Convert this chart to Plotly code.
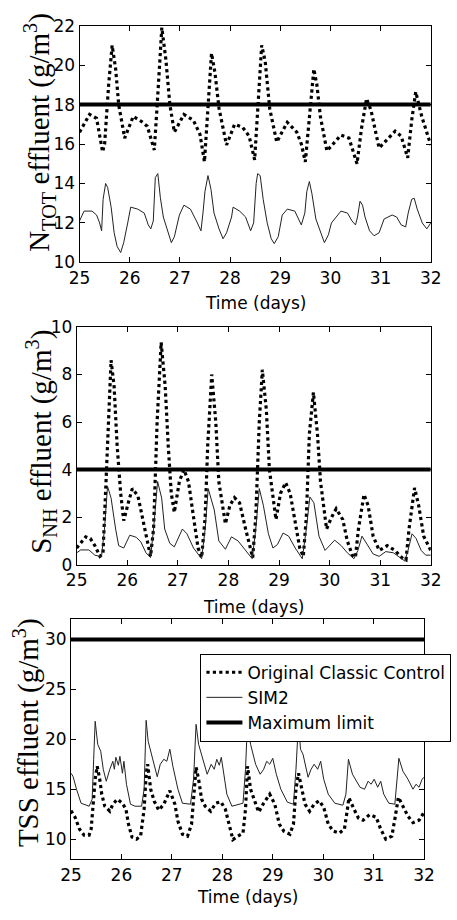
import plotly.graph_objects as go

# ---------------- data ----------------
days = [25, 26, 27, 28, 29, 30, 31, 32]
limit_ntot = 18
limit_snh = 4
limit_tss = 30

# N_TOT, Original Classic Control
t_ntot_orig = [25.0, 25.2, 25.34, 25.46, 25.5, 25.58, 25.65, 25.72, 25.78, 25.9, 26.07, 26.23, 26.35, 26.49,
               26.56, 26.64, 26.72, 26.8, 26.89, 27.08, 27.27, 27.4, 27.49, 27.56, 27.63, 27.7, 27.78, 27.93,
               28.09, 28.25, 28.38, 28.49, 28.56, 28.63, 28.7, 28.79, 28.93, 29.14, 29.33, 29.42, 29.5, 29.58,
               29.67, 29.73, 29.8, 29.93, 30.21, 30.37, 30.53, 30.62, 30.72, 30.81, 30.97, 31.29, 31.41, 31.54,
               31.62, 31.7, 31.82, 32.0]
ntot_orig = [16.6, 17.5, 17.3, 15.6, 16.0, 19.0, 21.0, 19.8, 18.0, 16.3, 17.4, 17.15, 16.9, 15.7,
             18.5, 21.9, 20.3, 18.0, 16.6, 17.5, 17.2, 16.5, 15.1, 17.8, 20.6, 19.6, 17.8, 15.95,
             17.0, 16.85, 16.4, 15.2, 18.2, 21.0, 20.2, 17.8, 16.1, 17.1, 16.6, 16.0, 15.1, 17.5,
             19.8, 19.0, 17.4, 15.65, 16.45, 16.3, 15.0, 16.8, 18.3, 17.7, 15.8, 16.65, 16.4, 15.3,
             17.2, 18.65, 17.4, 15.95]

# N_TOT, SIM2
t_ntot_sim2 = [25.0, 25.09, 25.25, 25.34, 25.4, 25.44, 25.47, 25.52, 25.56, 25.63, 25.69, 25.75, 25.82, 25.88,
               25.96, 26.02, 26.16, 26.29, 26.37, 26.42, 26.47, 26.51, 26.56, 26.61, 26.67, 26.76, 26.83, 26.89,
               26.99, 27.08, 27.21, 27.33, 27.42, 27.46, 27.5, 27.56, 27.62, 27.68, 27.78, 27.86, 27.93, 28.03,
               28.06, 28.19, 28.31, 28.41, 28.47, 28.52, 28.55, 28.6, 28.66, 28.74, 28.82, 28.88, 28.96, 29.04,
               29.14, 29.29, 29.42, 29.49, 29.53, 29.58, 29.63, 29.71, 29.8, 29.88, 29.96, 30.02, 30.21, 30.34,
               30.43, 30.5, 30.54, 30.59, 30.64, 30.69, 30.78, 30.87, 30.97, 31.07, 31.23, 31.32, 31.41, 31.5,
               31.55, 31.62, 31.67, 31.73, 31.83, 31.92, 32.0]
ntot_sim2 = [12.1, 12.6, 12.6, 12.4, 12.0, 11.6, 13.2, 14.0, 13.8, 12.8, 11.5, 10.8, 10.5, 11.0,
             12.0, 12.8, 12.7, 12.5, 11.9, 11.7, 12.1, 14.3, 14.5, 13.3, 12.3, 11.5, 11.0, 11.3,
             12.4, 12.9, 12.7, 12.1, 11.6, 12.5, 13.6, 14.4, 13.7, 12.5, 11.7, 11.2, 11.5, 12.3,
             12.8, 12.6, 12.3, 11.6, 12.0, 14.0, 14.5, 14.4, 13.2, 12.0, 11.2, 10.95, 11.3, 12.4,
             12.7, 12.6, 11.9, 12.5, 13.6, 14.1, 13.5, 12.2, 11.6, 11.0, 11.4, 12.0, 12.6, 12.5,
             12.1, 11.9, 12.3, 13.1, 12.9, 12.3, 11.6, 11.35, 11.5, 12.2, 12.4, 12.3, 11.9, 11.8,
             12.5, 13.2, 13.25, 12.7, 12.0, 11.7, 12.0]

# S_NH, Original Classic Control
t_snh_orig = [25.0, 25.18, 25.27, 25.36, 25.46, 25.52, 25.58, 25.65, 25.68, 25.74, 25.8, 25.87, 25.93, 26.02,
              26.1, 26.21, 26.3, 26.4, 26.46, 26.52, 26.59, 26.67, 26.75, 26.81, 26.87, 26.93, 27.03, 27.12,
              27.21, 27.31, 27.4, 27.47, 27.54, 27.59, 27.67, 27.75, 27.81, 27.94, 28.03, 28.12, 28.22, 28.34,
              28.44, 28.48, 28.54, 28.61, 28.67, 28.75, 28.81, 28.94, 29.03, 29.13, 29.22, 29.32, 29.41, 29.48,
              29.54, 29.6, 29.68, 29.76, 29.82, 29.94, 30.04, 30.13, 30.26, 30.35, 30.45, 30.51, 30.57, 30.68,
              30.76, 30.86, 30.98, 31.14, 31.29, 31.45, 31.51, 31.57, 31.68, 31.76, 31.86, 32.0]
snh_orig = [0.7, 1.17, 1.1, 0.8, 0.35, 0.45, 3.5, 7.5, 8.6, 7.5, 5.0, 3.0, 1.85, 2.6,
            3.2, 2.9, 2.0, 1.0, 0.35, 1.5, 6.0, 9.35, 7.5, 5.0, 3.0, 2.2, 3.5, 4.0,
            3.5, 2.0, 0.7, 0.3, 2.0, 5.0, 8.0, 6.0, 3.5, 1.72, 2.5, 2.82, 2.6, 1.5,
            0.6, 0.3, 2.0, 6.0, 8.2, 6.5, 4.0, 1.9, 3.0, 3.45, 3.0, 1.8, 0.7, 0.35,
            2.0, 5.5, 7.25, 5.5, 3.5, 1.5, 2.0, 2.35, 1.9, 1.0, 0.4, 0.3, 1.5, 2.95,
            2.5, 1.2, 0.6, 0.8, 0.6, 0.25, 0.2, 1.5, 3.23, 2.5, 1.2, 0.6]

# S_NH, SIM2
t_snh_sim2 = [25.0, 25.08, 25.24, 25.36, 25.49, 25.55, 25.61, 25.68, 25.77, 25.83, 25.93, 26.05, 26.18, 26.27,
              26.37, 26.46, 26.52, 26.6, 26.68, 26.74, 26.84, 26.93, 27.09, 27.18, 27.31, 27.47, 27.54, 27.6,
              27.72, 27.81, 27.94, 28.06, 28.19, 28.34, 28.47, 28.54, 28.61, 28.69, 28.79, 28.88, 28.97, 29.08,
              29.19, 29.32, 29.46, 29.54, 29.61, 29.69, 29.79, 29.91, 30.1, 30.23, 30.35, 30.48, 30.56, 30.64,
              30.73, 30.86, 30.98, 31.11, 31.26, 31.39, 31.49, 31.55, 31.63, 31.71, 31.81, 31.9, 32.0]
snh_sim2 = [0.5, 0.62, 0.62, 0.4, 0.33, 1.5, 3.3, 2.8, 1.5, 0.8, 0.7, 1.24, 1.15, 0.95,
            0.5, 0.3, 1.5, 3.5, 2.8, 1.5, 0.9, 0.75, 1.5, 1.3, 0.7, 0.25, 1.5, 3.2,
            2.3, 1.0, 0.65, 1.17, 1.0, 0.6, 0.25, 1.5, 3.2, 2.5, 1.3, 0.7, 0.85, 1.33,
            1.2, 0.7, 0.25, 1.5, 2.85, 2.6, 1.2, 0.6, 1.03, 0.8, 0.5, 0.25, 0.6, 1.2,
            0.9, 0.45, 0.35, 0.55, 0.5, 0.3, 0.15, 0.6, 1.3, 1.1, 0.6, 0.4, 0.4]

# TSS, Original Classic Control
t_tss_orig = [25.0, 25.08, 25.17, 25.26, 25.36, 25.4, 25.44, 25.48, 25.52, 25.57, 25.61, 25.67, 25.77, 25.83,
              25.92, 26.02, 26.09, 26.14, 26.21, 26.3, 26.38, 26.45, 26.49, 26.52, 26.58, 26.65, 26.74, 26.84,
              26.96, 27.06, 27.12, 27.21, 27.31, 27.39, 27.43, 27.48, 27.53, 27.59, 27.66, 27.77, 27.87, 27.97,
              28.06, 28.13, 28.21, 28.31, 28.41, 28.46, 28.5, 28.56, 28.63, 28.72, 28.82, 28.94, 29.04, 29.13,
              29.22, 29.34, 29.41, 29.46, 29.51, 29.57, 29.64, 29.73, 29.82, 29.92, 30.01, 30.1, 30.2, 30.32,
              30.42, 30.48, 30.51, 30.61, 30.7, 30.79, 30.92, 31.05, 31.14, 31.24, 31.36, 31.42, 31.49, 31.58,
              31.68, 31.78, 31.9, 32.0]
tss_orig = [12.85, 12.2, 11.0, 10.4, 10.4, 11.0, 13.5, 16.0, 17.3, 16.0, 14.5, 13.3, 12.8, 13.5,
            14.0, 13.6, 13.0, 11.5, 10.2, 10.0, 10.3, 13.0, 16.5, 17.5, 15.0, 13.8, 12.9, 13.5,
            14.85, 13.5, 11.8, 10.5, 10.3, 11.5, 14.0, 17.2, 16.0, 14.0, 13.3, 12.8, 13.6, 13.75,
            13.0, 11.5, 9.95, 10.3, 10.6, 13.0, 17.3, 15.0, 14.0, 12.7, 13.6, 14.5, 13.5, 11.5,
            10.8, 10.5, 11.5, 15.0, 16.6, 15.0, 13.5, 12.8, 13.5, 13.85, 13.2, 11.5, 10.8, 10.6,
            11.0, 13.0, 14.15, 13.0, 12.1, 11.9, 12.45, 12.2, 11.0, 10.0, 10.3, 12.0, 14.2, 13.3,
            12.3, 11.65, 11.9, 12.7]

# TSS, SIM2
t_tss_sim2 = [25.0, 25.04, 25.11, 25.2, 25.36, 25.42, 25.45, 25.48, 25.53, 25.59, 25.64, 25.7, 25.77, 25.83,
              25.86, 25.89, 25.94, 25.97, 26.02, 26.05, 26.1, 26.18, 26.27, 26.4, 26.45, 26.49, 26.53, 26.61,
              26.71, 26.77, 26.84, 26.9, 26.96, 27.02, 27.12, 27.21, 27.37, 27.43, 27.48, 27.53, 27.61, 27.7,
              27.78, 27.84, 27.89, 27.94, 27.98, 28.02, 28.09, 28.19, 28.41, 28.46, 28.5, 28.56, 28.66, 28.75,
              28.82, 28.88, 28.94, 29.0, 29.07, 29.16, 29.29, 29.41, 29.46, 29.51, 29.55, 29.6, 29.7, 29.76,
              29.82, 29.89, 29.95, 30.01, 30.1, 30.23, 30.39, 30.45, 30.5, 30.58, 30.67, 30.73, 30.82, 30.89,
              30.95, 31.01, 31.08, 31.14, 31.2, 31.3, 31.42, 31.45, 31.5, 31.58, 31.68, 31.78, 31.84, 31.9,
              31.96, 32.0]
tss_sim2 = [16.6, 16.3, 15.0, 13.6, 13.3, 14.0, 18.0, 21.8, 19.5, 18.8, 17.0, 15.8, 17.0, 17.8,
            17.0, 18.2, 17.4, 18.3, 16.6, 17.8, 15.5, 13.5, 13.3, 13.3, 15.0, 21.9, 19.8, 18.2,
            16.25, 17.5, 18.0, 17.8, 19.0, 17.3, 15.0, 13.6, 13.5, 16.0, 21.5, 19.5, 18.0, 16.5,
            17.5, 17.0, 18.0, 17.4, 18.2, 17.0, 14.5, 13.3, 13.6, 17.0, 21.8, 19.5, 17.5, 16.5,
            17.0, 17.8, 17.5, 18.1, 16.5, 15.0, 13.7, 13.5, 17.0, 21.7, 19.0, 18.5, 16.2, 17.0,
            17.5, 17.0, 17.8, 16.0, 14.5, 13.6, 13.4, 14.5, 18.0, 16.5, 15.8, 15.2, 15.0, 15.8,
            15.5, 16.0, 15.2, 15.8, 14.5, 13.6, 13.5, 15.5, 18.1, 16.8, 16.0, 15.0, 15.5, 15.2,
            16.0, 16.2]

# ---------------- figure ----------------
W, H = 457, 920
SANS = "DejaVu Sans"
SERIF = "Liberation Serif"

def px_x(p):
    return p / W

def px_y(p):
    return 1 - p / H

panels = [
    dict(x0=72, x1=441, yt=16, yb=258, yr=[10, 22], dt=2,
         orig=(t_ntot_orig, ntot_orig), sim=(t_ntot_sim2, ntot_sim2), lim=limit_ntot,
         title="N<sub>TOT</sub> effluent (g/m<sup>3</sup>)", tx=30, ty=125, xt=300),
    dict(x0=69, x1=441, yt=324, yb=567, yr=[0, 10], dt=2,
         orig=(t_snh_orig, snh_orig), sim=(t_snh_sim2, snh_sim2), lim=limit_snh,
         title="S<sub>NH</sub> effluent (g/m<sup>3</sup>)", tx=32, ty=441, xt=610),
    dict(x0=63, x1=434, yt=623, yb=868, yr=[8, 32], dt=5,
         orig=(t_tss_orig, tss_orig), sim=(t_tss_sim2, tss_sim2), lim=limit_tss,
         title="TSS effluent (g/m<sup>3</sup>)", tx=17, ty=739, xt=907),
]

fig = go.Figure()
annotations = []
for i, p in enumerate(panels, start=1):
    xa = "x" if i == 1 else f"x{i}"
    ya = "y" if i == 1 else f"y{i}"
    show = (i == 3)
    fig.add_trace(go.Scatter(x=p["orig"][0], y=p["orig"][1], mode="lines",
                             line=dict(color="black", width=3.2, dash="dot"),
                             name="Original Classic Control", showlegend=show,
                             xaxis=xa, yaxis=ya))
    fig.add_trace(go.Scatter(x=p["sim"][0], y=p["sim"][1], mode="lines",
                             line=dict(color="#222222", width=1),
                             name="SIM2", showlegend=show, xaxis=xa, yaxis=ya))
    fig.add_trace(go.Scatter(x=[days[0], days[-1]], y=[p["lim"], p["lim"]], mode="lines",
                             line=dict(color="black", width=4),
                             name="Maximum limit", showlegend=show, xaxis=xa, yaxis=ya))
    axis_common = dict(showline=True, linecolor="black", linewidth=1, mirror="ticks",
                       ticks="inside", ticklen=5, tickcolor="black", showgrid=False,
                       zeroline=False, tickfont=dict(family=SANS, size=17, color="black"))
    xkey = "xaxis" if i == 1 else f"xaxis{i}"
    ykey = "yaxis" if i == 1 else f"yaxis{i}"
    fig.update_layout({
        xkey: dict(domain=[px_x(p["x0"]), px_x(p["x1"])], range=[days[0], days[-1]],
                   tickvals=days, anchor=ya, **axis_common),
        ykey: dict(domain=[px_y(p["yb"]), px_y(p["yt"])], range=p["yr"], dtick=p["dt"],
                   tick0=0, anchor=xa, **axis_common),
    })
    annotations.append(dict(text=p["title"], xref="paper", yref="paper",
                            x=px_x(p["tx"]), y=px_y(p["ty"]), textangle=-90,
                            showarrow=False, xanchor="center", yanchor="middle",
                            font=dict(family=SERIF, size=29, color="black")))
    annotations.append(dict(text="Time (days)", xref="paper", yref="paper",
                            x=px_x((p["x0"] + p["x1"]) / 2), y=px_y(p["xt"]),
                            showarrow=False, xanchor="center", yanchor="middle",
                            font=dict(family=SANS, size=17, color="black")))

fig.update_layout(
    width=W, height=H,
    margin=dict(l=0, r=0, t=0, b=0),
    paper_bgcolor="white", plot_bgcolor="white",
    annotations=annotations,
    legend=dict(x=px_x(199), y=px_y(658), xanchor="left", yanchor="top",
                bgcolor="white", bordercolor="black", borderwidth=1,
                font=dict(family=SANS, size=17, color="black"),
                tracegroupgap=0, itemwidth=36),
    showlegend=True,
)

fig.write_html("out.html",
               config={"displayModeBar": False},
               post_script="document.body.style.margin='0';document.body.style.padding='0';"
                           "document.body.style.overflow='hidden';")
